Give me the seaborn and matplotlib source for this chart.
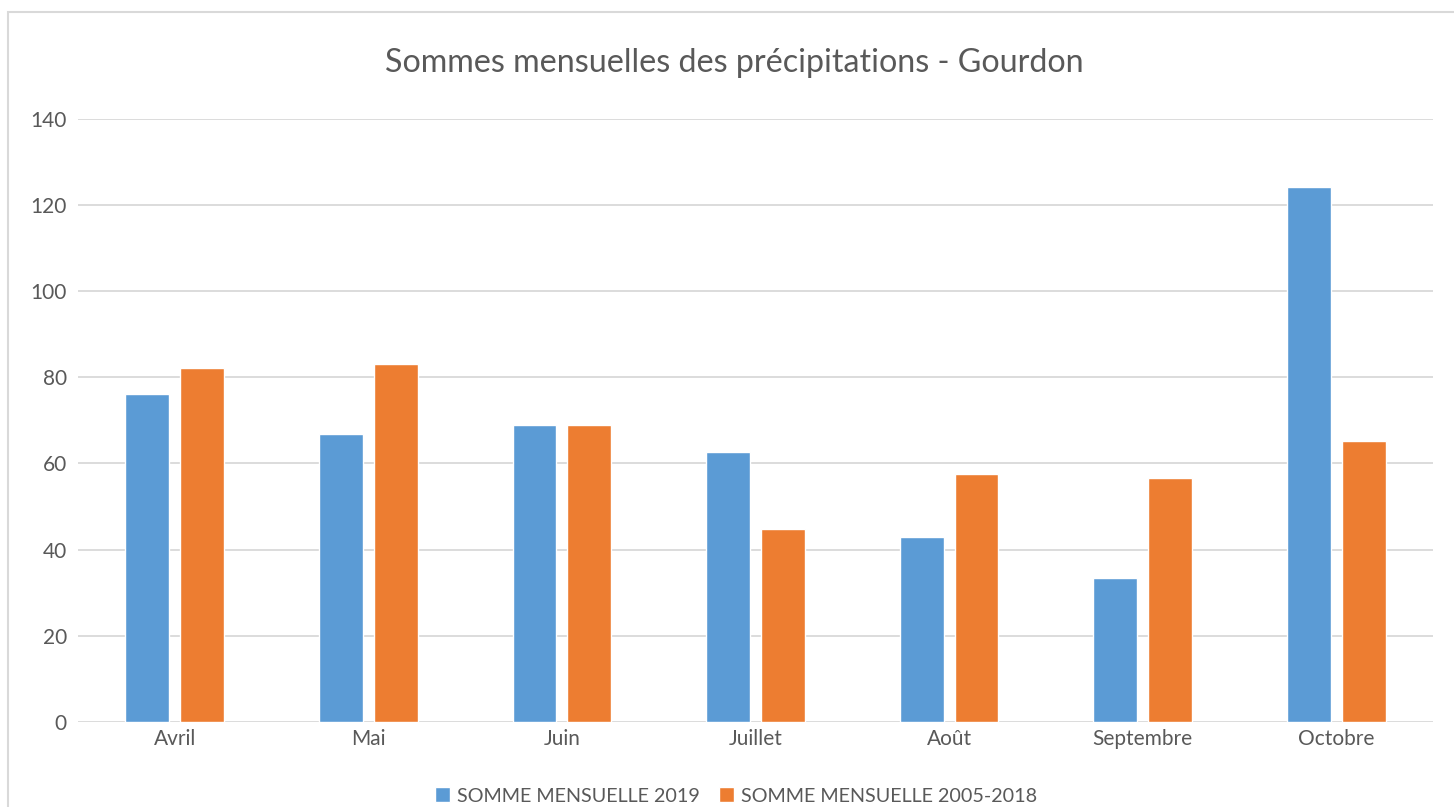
import pandas as pd
import seaborn as sns
import matplotlib.pyplot as plt
from matplotlib.patches import Rectangle

# Data
mois = ["Avril", "Mai", "Juin", "Juillet", "Août", "Septembre", "Octobre"]
somme_2019 = [76.2, 66.9, 69.0, 62.7, 42.9, 33.3, 124.1]
somme_2005_2018 = [82.1, 83.0, 69.0, 44.7, 57.6, 56.7, 65.3]
series = ["SOMME MENSUELLE 2019", "SOMME MENSUELLE 2005-2018"]
couleurs = ["#5B9BD5", "#ED7D31"]
yticks = [0, 20, 40, 60, 80, 100, 120, 140]

df = pd.DataFrame({"mois": mois, series[0]: somme_2019, series[1]: somme_2005_2018})
df_long = df.melt(id_vars="mois", var_name="serie", value_name="valeur")

sns.set_style("white")
plt.rcParams["font.family"] = ["Lato", "DejaVu Sans"]
gris = "#595959"

W, H = 1454, 807
fig = plt.figure(figsize=(W / 100, H / 100), dpi=100)
ax = fig.add_axes([78 / W, 1 - 721.7 / H, (1433 - 78) / W, (721.7 - 119) / H])

sns.barplot(
    data=df_long, x="mois", y="valeur", hue="serie",
    order=mois, hue_order=series, palette=couleurs,
    width=0.567, gap=0.2, saturation=1, ax=ax, zorder=3,
)

ax.set_ylim(0, 140)
ax.set_xlim(-0.5, len(mois) - 0.5)
ax.set_yticks(yticks)
ax.yaxis.grid(True, color="#D9D9D9", linewidth=1.3, zorder=0)
ax.set_axisbelow(True)
for s in ax.spines.values():
    s.set_visible(False)
ax.tick_params(axis="both", length=0, labelsize=15, labelcolor=gris)
ax.tick_params(axis="y", pad=8)
ax.tick_params(axis="x", pad=5)
ax.set_xlabel("")
ax.set_ylabel("")

fig.text(734 / W, 1 - 63 / H, "Sommes mensuelles des précipitations - Gourdon",
         ha="center", va="center", fontsize=23.2, color=gris)

handles, labels = ax.get_legend_handles_labels()
ax.legend_.remove()
fig.legend(handles, labels, loc="center", bbox_to_anchor=(736 / W, 1 - 796 / H),
           ncol=2, frameon=False, fontsize=14.2, labelcolor=gris,
           handlelength=0.75, handleheight=0.75, handletextpad=0.35, columnspacing=1.0)

# chart frame
fig.patches.append(Rectangle((8 / W, -0.1), 1.2, 1 - 12 / H + 0.1, transform=fig.transFigure,
                             fill=False, edgecolor="#D9D9D9", linewidth=1.5))

fig.savefig("out.png", dpi=100)
